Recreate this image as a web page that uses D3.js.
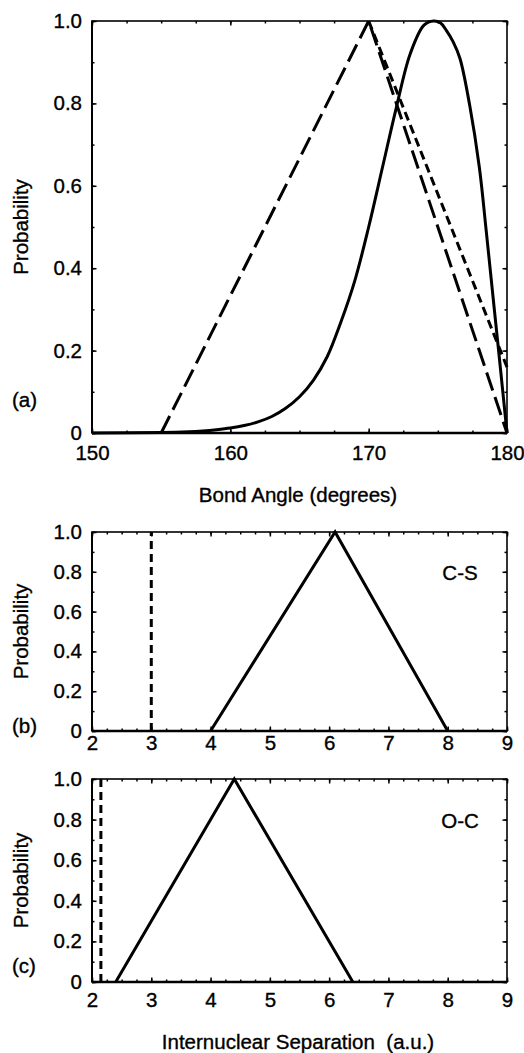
<!DOCTYPE html>
<html>
<head>
<meta charset="utf-8">
<script src="https://cdn.jsdelivr.net/npm/d3@7"></script>
<style>
  body { margin: 0; background: #fff; }
  text { font-family: "Liberation Sans", Arial, Helvetica, sans-serif; fill: #000; stroke: #000; stroke-width: 0.35px; }
</style>
</head>
<body>
<svg id="fig" width="524" height="1053"></svg>
<script>
// panel (a) - bond angle distributions
var angleSolidX = [150, 155, 157, 158, 159, 160, 161, 162, 163, 164, 165, 166, 167, 168, 169, 170, 171, 172, 173, 174, 174.7, 175.2, 175.6, 176.1, 176.6, 177.3, 178, 178.5, 179, 179.5, 180];
var angleSolidY = [0, 0.001, 0.003, 0.005, 0.008, 0.012, 0.018, 0.027, 0.040, 0.060, 0.088, 0.128, 0.185, 0.27, 0.37, 0.50, 0.645, 0.79, 0.92, 0.99, 1.0, 0.995, 0.978, 0.95, 0.909, 0.796, 0.645, 0.49, 0.327, 0.165, 0];
var angleLongX = [155, 170, 180];
var angleLongY = [0, 1, 0];
var angleShortX = [170, 180];
var angleShortY = [1, 0.16];
var angleTicks = [150, 160, 170, 180];

// panel (b) - C-S separation
var csSolidX = [4, 6.1, 8];
var csSolidY = [0, 1, 0];
var csDashX = [3, 3];
var csDashY = [0, 1];

// panel (c) - O-C separation
var ocSolidX = [2.4, 4.4, 6.4];
var ocSolidY = [0, 1, 0];
var ocDashX = [2.15, 2.15];
var ocDashY = [0, 1];

var sepTicks = [2, 3, 4, 5, 6, 7, 8, 9];
var probTicks = [0, 0.2, 0.4, 0.6, 0.8, 1.0];

var svg = d3.select("#fig");
var FS = 20.5;

function panel(opt) {
  var x = d3.scaleLinear().domain(opt.xdom).range([92, 507]);
  var y = d3.scaleLinear().domain([0, 1]).range([opt.bottom, opt.top]);
  var g = svg.append("g");

  var xMinor = d3.range(opt.xdom[0], opt.xdom[1] + 1e-9, opt.xminor);
  var yMinor = d3.range(0, 1.0001, 0.1);

  // minor ticks, all four sides
  g.append("g").attr("transform", "translate(0," + opt.bottom + ")")
    .call(d3.axisBottom(x).tickValues(xMinor).tickSize(-2.5).tickFormat(""));
  g.append("g").attr("transform", "translate(0," + opt.top + ")")
    .call(d3.axisTop(x).tickValues(xMinor).tickSize(-2.5).tickFormat(""));
  g.append("g").attr("transform", "translate(92,0)")
    .call(d3.axisLeft(y).tickValues(yMinor).tickSize(-2.5).tickFormat(""));
  g.append("g").attr("transform", "translate(507,0)")
    .call(d3.axisRight(y).tickValues(yMinor).tickSize(-2.5).tickFormat(""));

  // major ticks with labels
  g.append("g").attr("transform", "translate(0," + opt.bottom + ")")
    .call(d3.axisBottom(x).tickValues(opt.xticks).tickSize(-4.5).tickPadding(opt.xpad).tickFormat(d3.format("d")));
  g.append("g").attr("transform", "translate(0," + opt.top + ")")
    .call(d3.axisTop(x).tickValues(opt.xticks).tickSize(-4.5).tickFormat(""));
  g.append("g").attr("transform", "translate(92,0)")
    .call(d3.axisLeft(y).tickValues(probTicks).tickSize(-4.5).tickPadding(10)
      .tickFormat(function(d) { return d === 0 ? "0" : d3.format(".1f")(d); }));
  g.append("g").attr("transform", "translate(507,0)")
    .call(d3.axisRight(y).tickValues(probTicks).tickSize(-4.5).tickFormat(""));

  g.selectAll(".domain").remove();
  g.selectAll(".tick line").attr("stroke", "#000").attr("stroke-width", 1.5);
  g.selectAll(".tick text").attr("font-size", FS).attr("font-family", "Liberation Sans, Arial, sans-serif");

  // frame
  g.append("rect")
    .attr("x", 92).attr("y", opt.top)
    .attr("width", 415).attr("height", opt.bottom - opt.top)
    .attr("fill", "none").attr("stroke", "#000").attr("stroke-width", 1.6);
  g.append("line").attr("x1", 92).attr("x2", 507)
    .attr("y1", opt.bottom).attr("y2", opt.bottom)
    .attr("stroke", "#000").attr("stroke-width", 2.4);
  g.append("line").attr("x1", 92).attr("x2", 92)
    .attr("y1", opt.top).attr("y2", opt.bottom)
    .attr("stroke", "#000").attr("stroke-width", 2);

  var line = d3.line().x(function(d) { return x(d[0]); }).y(function(d) { return y(d[1]); });

  opt.series.forEach(function(s) {
    var pts = d3.zip(s.x, s.y);
    g.append("path")
      .attr("d", line.curve(s.curve || d3.curveLinear)(pts))
      .attr("fill", "none").attr("stroke", "#000")
      .attr("stroke-width", 3)
      .attr("stroke-linejoin", "miter")
      .attr("stroke-dasharray", s.dash || null);
  });

  // y title and panel letter
  g.append("text")
    .attr("transform", "translate(28," + ((opt.top + opt.bottom) / 2) + ") rotate(-90)")
    .attr("text-anchor", "middle").attr("font-size", FS)
    .text("Probability");
  g.append("text").attr("x", 12).attr("y", opt.letterY)
    .attr("font-size", FS).text(opt.letter);

  if (opt.tag) {
    g.append("text").attr("x", 460).attr("y", opt.tagY)
      .attr("text-anchor", "middle").attr("font-size", FS).text(opt.tag);
  }
  if (opt.xtitle) {
    g.append("text").attr("x", 298).attr("y", opt.xtitleY)
      .attr("text-anchor", "middle").attr("font-size", FS)
      .attr("xml:space", "preserve").style("white-space", "pre")
      .text(opt.xtitle);
  }
}

panel({
  xdom: [150, 180], xticks: angleTicks, xminor: 2.5,
  top: 21, bottom: 433, xpad: 12.5,
  letter: "(a)", letterY: 407,
  xtitle: "Bond Angle (degrees)", xtitleY: 502,
  series: [
    { x: angleSolidX, y: angleSolidY, curve: d3.curveCatmullRom.alpha(0.5) },
    { x: angleLongX, y: angleLongY, dash: "19,7" },
    { x: angleShortX, y: angleShortY, dash: "9,5" }
  ]
});

panel({
  xdom: [2, 9], xticks: sepTicks, xminor: 0.25,
  top: 532, bottom: 731, xpad: 4.5,
  letter: "(b)", letterY: 733,
  tag: "C-S", tagY: 580,
  series: [
    { x: csSolidX, y: csSolidY },
    { x: csDashX, y: csDashY, dash: "8,5" }
  ]
});

panel({
  xdom: [2, 9], xticks: sepTicks, xminor: 0.25,
  top: 779, bottom: 982, xpad: 10.5,
  letter: "(c)", letterY: 973,
  tag: "O-C", tagY: 828,
  xtitle: "Internuclear Separation  (a.u.)", xtitleY: 1049,
  series: [
    { x: ocSolidX, y: ocSolidY },
    { x: ocDashX, y: ocDashY, dash: "8,5" }
  ]
});
</script>
</body>
</html>
